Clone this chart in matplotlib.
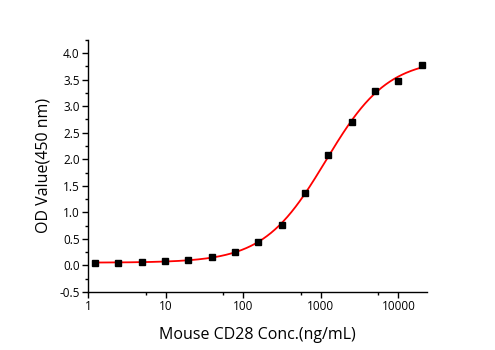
import numpy as np
import matplotlib
matplotlib.use("Agg")
import matplotlib.pyplot as plt
from matplotlib.ticker import FixedLocator, NullFormatter, MultipleLocator

plt.rcParams['font.family'] = ['Open Sans', 'DejaVu Sans']

# Data (ng/mL, OD450)
conc = [1.22, 2.44, 4.88, 9.77, 19.53, 39.06, 78.13, 156.25, 312.5, 625, 1250, 2500, 5000, 10000, 20000]
od = [0.038, 0.05, 0.057, 0.076, 0.11, 0.16, 0.26, 0.44, 0.76, 1.36, 2.08, 2.71, 3.28, 3.48, 3.78]
x_ticks = [1, 10, 100, 1000, 10000]
x_tick_labels = ['1', '10', '100', '1000', '10000']

x = np.array(conc, dtype=float)
y = np.array(od, dtype=float)

# 4-parameter logistic fit (Levenberg-Marquardt in numpy)
def model(p, xx):
    A, D, lc, h = p
    return D + (A - D) / (1.0 + (xx / 10 ** lc) ** h)

p = np.array([y.min(), y.max() * 1.05, np.log10(1000.0), 1.0])
lam = 1e-2
for _ in range(500):
    r = y - model(p, x)
    J = np.zeros((len(x), 4))
    for i in range(4):
        dp = np.zeros(4); dp[i] = 1e-6
        J[:, i] = (model(p + dp, x) - model(p - dp, x)) / 2e-6
    H = J.T @ J
    g = J.T @ r
    step = np.linalg.solve(H + lam * np.diag(np.diag(H)), g)
    pn = p + step
    if np.sum((y - model(pn, x)) ** 2) < np.sum(r ** 2):
        p = pn; lam *= 0.5
    else:
        lam *= 4

xf = np.logspace(np.log10(x.min()), np.log10(x.max()), 400)
yf = model(p, xf)

fig = plt.figure(figsize=(4.95, 3.5), dpi=100)
ax = fig.add_axes([0.178, 0.166, 0.685, 0.72])
ax.plot(xf, yf, color='#ff0000', lw=1.3, zorder=2)
ax.plot(x, y, 's', color='black', ms=5, zorder=3)

ax.set_xscale('log')
ax.set_xlim(1, 23500)
ax.set_ylim(-0.5, 4.25)
ax.xaxis.set_major_locator(FixedLocator(x_ticks))
ax.set_xticklabels(x_tick_labels)
ax.xaxis.set_minor_locator(FixedLocator([5.5, 55, 550, 5500]))
ax.xaxis.set_minor_formatter(NullFormatter())
ax.yaxis.set_major_locator(MultipleLocator(0.5))
ax.yaxis.set_minor_locator(MultipleLocator(0.25))
ax.yaxis.set_major_formatter(plt.FuncFormatter(lambda v, _: f"{v:.1f}"))

for s in ['top', 'right']:
    ax.spines[s].set_visible(False)
for s in ['left', 'bottom']:
    ax.spines[s].set_linewidth(1.0)
ax.tick_params(which='major', direction='out', length=4, width=1, labelsize=8.5, pad=2)
ax.tick_params(which='minor', direction='out', length=2.5, width=1)

ax.set_xlabel('Mouse CD28 Conc.(ng/mL)', fontsize=11.5, labelpad=10)
ax.set_ylabel('OD Value(450 nm)', fontsize=11.5, labelpad=6)

fig.savefig('out.png', dpi=100)
